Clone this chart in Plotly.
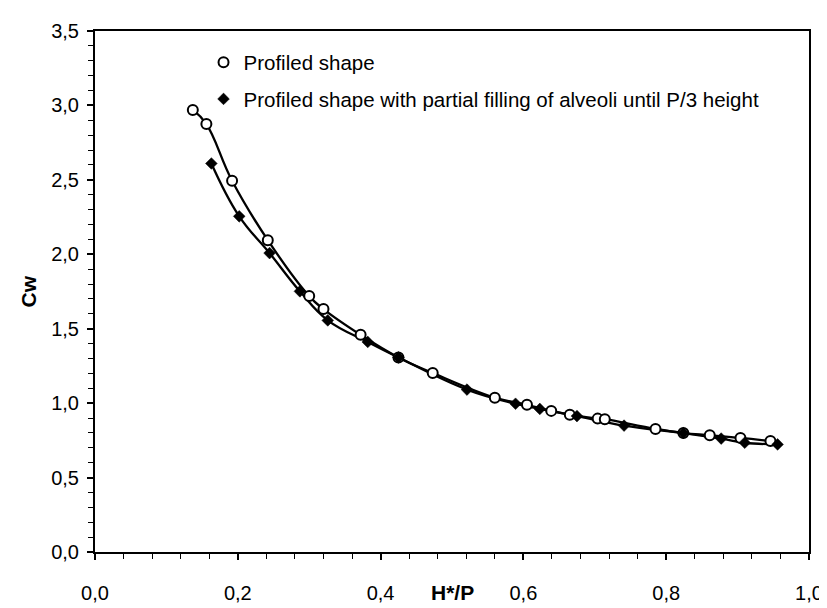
import plotly.graph_objects as go

# Profiled shape (open circles)
x_profiled = [0.137, 0.156, 0.192, 0.242, 0.300, 0.320, 0.372, 0.425, 0.473, 0.560,
              0.605, 0.639, 0.665, 0.704, 0.714, 0.785, 0.824, 0.861, 0.904, 0.946]
y_profiled = [2.970, 2.875, 2.494, 2.095, 1.719, 1.632, 1.459, 1.307, 1.203, 1.037,
              0.989, 0.948, 0.922, 0.896, 0.892, 0.827, 0.799, 0.784, 0.766, 0.745]

# Profiled shape with partial filling (filled diamonds)
x_filled = [0.163, 0.202, 0.2445, 0.287, 0.326, 0.382, 0.425, 0.521, 0.589, 0.623,
            0.675, 0.741, 0.824, 0.877, 0.910, 0.956]
y_filled = [2.610, 2.255, 2.008, 1.751, 1.556, 1.411, 1.307, 1.091, 0.996, 0.961,
            0.913, 0.849, 0.799, 0.762, 0.734, 0.723]

name_profiled = "Profiled shape"
name_filled = "Profiled shape with partial filling of alveoli until P/3 height"

x_ticks = [0.0, 0.2, 0.4, 0.6, 0.8, 1.0]
x_ticklabels = ["0,0", "0,2", "0,4", "0,6", "0,8", "1,0"]
y_ticks = [0.0, 0.5, 1.0, 1.5, 2.0, 2.5, 3.0, 3.5]
y_ticklabels = ["0,0", "0,5", "1,0", "1,5", "2,0", "2,5", "3,0", "3,5"]

FONT = "Arial, Liberation Sans, Helvetica, sans-serif"
FS_TICK = 20
FS_LEG = 20.5
FS_TITLE = 21

fig = go.Figure()
fig.add_trace(go.Scatter(x=x_profiled, y=y_profiled, mode="lines",
                         line=dict(color="black", width=2.3, shape="spline", smoothing=1.2),
                         showlegend=False, hoverinfo="skip"))
fig.add_trace(go.Scatter(x=x_filled, y=y_filled, mode="lines",
                         line=dict(color="black", width=2.3, shape="spline", smoothing=1.2),
                         showlegend=False, hoverinfo="skip"))
fig.add_trace(go.Scatter(x=x_profiled, y=y_profiled, mode="markers", name=name_profiled,
                         legendgroup="a",
                         marker=dict(symbol="circle", size=10, color="white",
                                     line=dict(color="black", width=2))))
fig.add_trace(go.Scatter(x=x_filled, y=y_filled, mode="markers", name=name_filled,
                         legendgroup="b",
                         marker=dict(symbol="diamond", size=9, color="black",
                                     line=dict(color="black", width=0.5))))

fig.update_layout(
    width=827, height=608,
    margin=dict(l=87, r=16, t=20, b=50),
    paper_bgcolor="white", plot_bgcolor="white",
    font=dict(family=FONT, size=FS_TICK, color="black"),
    showlegend=True,
    legend=dict(x=0.152, y=0.978, xanchor="left", yanchor="top",
                bgcolor="rgba(0,0,0,0)", borderwidth=0, tracegroupgap=7,
                font=dict(family=FONT, size=FS_LEG, color="black")),
    xaxis=dict(range=[0, 1], tickmode="array", tickvals=x_ticks, ticktext=x_ticklabels,
               showgrid=False, zeroline=False, showline=True, linecolor="black", linewidth=2,
               mirror=True, ticks="outside", ticklen=6, tickwidth=1.5, tickcolor="black",
               ticklabelstandoff=16,
               minor=dict(dtick=0.04, ticks="outside", ticklen=5, tickwidth=1.2,
                          tickcolor="black", showgrid=False),
               tickfont=dict(family=FONT, size=FS_TICK, color="black")),
    yaxis=dict(range=[0, 3.5], tickmode="array", tickvals=y_ticks, ticktext=y_ticklabels,
               showgrid=False, zeroline=False, showline=True, linecolor="black", linewidth=2,
               mirror=True, ticks="outside", ticklen=6, tickwidth=1.5, tickcolor="black",
               ticklabelstandoff=4,
               minor=dict(dtick=0.1, ticks="outside", ticklen=5, tickwidth=1.2,
                          tickcolor="black", showgrid=False),
               tickfont=dict(family=FONT, size=FS_TICK, color="black")),
    annotations=[
        dict(text="<b>H*/P</b>", x=0.5, y=-0.078, xref="paper", yref="paper",
             xanchor="center", yanchor="middle", showarrow=False,
             font=dict(family=FONT, size=FS_TITLE, color="black")),
        dict(text="<b>Cw</b>", x=-0.0925, y=0.5, xref="paper", yref="paper",
             xanchor="center", yanchor="middle", showarrow=False, textangle=-90,
             font=dict(family=FONT, size=FS_TITLE, color="black")),
    ],
)

fig.write_html("out.html")
